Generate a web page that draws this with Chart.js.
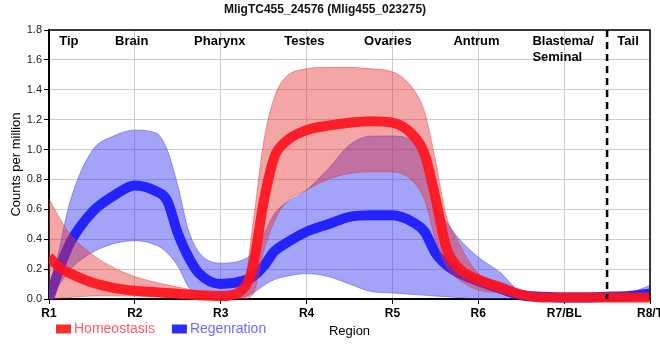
<!DOCTYPE html>
<html>
<head>
<meta charset="utf-8">
<script src="https://cdn.jsdelivr.net/npm/chart.js@4.4.0/dist/chart.umd.min.js"></script>
<style>
  html, body { margin: 0; padding: 0; background: #fff; overflow: hidden; }
  #wrap { width: 660px; height: 360px; }
</style>
</head>
<body>
<div id="wrap"><canvas id="chart" width="660" height="360"></canvas></div>
<script>
// values (Counts per million)
const chartTitle = 'MligTC455_24576 (Mlig455_023275)';
const regionLabels = ['R1', 'R2', 'R3', 'R4', 'R5', 'R6', 'R7/BL', 'R8/T'];
const regionNames = [['Tip'], ['Brain'], ['Pharynx'], ['Testes'], ['Ovaries'], ['Antrum'], ['Blastema/', 'Seminal'], ['Tail']];
const regionNameAt = [1.12, 1.77, 2.69, 3.74, 4.67, 5.71, 6.63, 7.62];
const tailBoundary = 7.5;

const regionPos = [1, 1.125, 1.25, 1.5, 1.75, 2, 2.25, 2.375, 2.5, 2.625, 2.75, 3, 3.25, 3.375, 3.5, 3.625, 3.75,
  4, 4.25, 4.5, 4.75, 5, 5.25, 5.375, 5.5, 5.625, 5.75, 6, 6.25, 6.5, 6.75, 7, 7.25, 7.5, 7.75, 8];

const homeoMean = [0.28, 0.21, 0.17, 0.11, 0.075, 0.055, 0.045, 0.04, 0.035, 0.03, 0.025, 0.02, 0.06, 0.22, 0.65, 0.95, 1.05,
  1.13, 1.16, 1.18, 1.19, 1.18, 1.09, 0.97, 0.68, 0.35, 0.22, 0.13, 0.08, 0.03, 0.01, 0.01, 0.01, 0.01, 0.01, 0.01];
const homeoHigh = [0.67, 0.54, 0.43, 0.30, 0.21, 0.15, 0.11, 0.095, 0.08, 0.065, 0.05, 0.03, 0.04, 0.5, 1.05, 1.35, 1.48,
  1.54, 1.55, 1.55, 1.54, 1.52, 1.40, 1.25, 0.93, 0.56, 0.40, 0.17, 0.10, 0.04, 0.015, 0.015, 0.015, 0.015, 0.015, 0.015];
const homeoLow = [0, 0.005, 0.01, 0.02, 0.02, 0.02, 0.015, 0.01, 0.01, 0.01, 0.01, 0.01, 0, 0.03, 0.32, 0.52, 0.64,
  0.73, 0.80, 0.84, 0.85, 0.85, 0.78, 0.66, 0.40, 0.22, 0.14, 0.06, 0.04, 0.01, 0, 0, 0, 0, 0, 0];

const regenMean = [0, 0.21, 0.38, 0.58, 0.69, 0.76, 0.72, 0.66, 0.44, 0.28, 0.17, 0.10, 0.12, 0.15, 0.22, 0.32, 0.37,
  0.45, 0.50, 0.55, 0.56, 0.56, 0.51, 0.45, 0.31, 0.23, 0.18, 0.12, 0.07, 0.025, 0.015, 0.01, 0.01, 0.015, 0.02, 0.035];
const regenHigh = [0, 0.35, 0.66, 0.99, 1.09, 1.13, 1.11, 1.0, 0.76, 0.46, 0.31, 0.24, 0.26, 0.31, 0.43, 0.57, 0.64,
  0.73, 0.87, 1.03, 1.09, 1.09, 1.05, 0.89, 0.63, 0.52, 0.42, 0.28, 0.18, 0.04, 0.01, 0.01, 0.012, 0.02, 0.04, 0.09];
const regenLow = [0, 0.1, 0.2, 0.31, 0.37, 0.39, 0.36, 0.31, 0.22, 0.08, 0.02, 0, 0.01, 0.04, 0.09, 0.13, 0.15,
  0.17, 0.15, 0.10, 0.05, 0.04, 0.03, 0.025, 0.02, 0.015, 0.01, 0, 0, 0, 0, 0, 0, 0, 0, 0.01];

const FONT = '"Liberation Sans", Arial, sans-serif';

function pts(arr) {
    return regionPos.map((x, i) => ({ x: x, y: arr[i] }));
}

function meanLine(label, arr, color) {
    return {
        label: label,
        data: pts(arr),
        borderColor: color,
        backgroundColor: color,
        borderWidth: 10,
        pointRadius: 0,
        fill: false,
        cubicInterpolationMode: 'monotone',
        clip: { left: 0, top: 0, right: 0, bottom: 4 }
    };
}

function bandEdge(arr, edge, fillColor, fillTarget) {
    return {
        label: '',
        data: pts(arr),
        borderColor: edge,
        backgroundColor: fillColor,
        borderWidth: 1,
        pointRadius: 0,
        fill: fillTarget,
        cubicInterpolationMode: 'monotone',
        clip: 0
    };
}

// first dataset is drawn last (on top)
const datasets = [
    meanLine('Homeostasis', homeoMean, 'rgba(255,20,30,0.92)'),
    bandEdge(homeoHigh, 'rgba(220,60,60,0.45)', 'rgba(230,50,50,0.44)', '+1'),
    bandEdge(homeoLow, 'rgba(220,60,60,0.45)', 'rgba(230,50,50,0.44)', false),
    meanLine('Regenration', regenMean, 'rgba(25,25,255,0.92)'),
    bandEdge(regenHigh, 'rgba(60,60,230,0.45)', 'rgba(50,50,240,0.45)', '+1'),
    bandEdge(regenLow, 'rgba(60,60,230,0.45)', 'rgba(50,50,240,0.45)', false)
];

const legendColors = { 'Homeostasis': ['rgb(255,45,45)', '#ff5a66'], 'Regenration': ['rgb(45,45,255)', '#6b6bff'] };

const extras = {
    id: 'extras',
    afterDatasetsDraw(chart) {
        const ctx = chart.ctx;
        const a = chart.chartArea;
        const xs = chart.scales.x;
        ctx.save();
        // dashed boundary before the tail
        const dx = xs.getPixelForValue(tailBoundary);
        ctx.strokeStyle = '#000';
        ctx.lineWidth = 2.5;
        ctx.setLineDash([7, 5]);
        ctx.beginPath();
        ctx.moveTo(dx, a.top);
        ctx.lineTo(dx, a.bottom);
        ctx.stroke();
        ctx.setLineDash([]);
        // frame top and right
        ctx.lineWidth = 1.5;
        ctx.beginPath();
        ctx.moveTo(a.left, a.top);
        ctx.lineTo(a.right, a.top);
        ctx.lineTo(a.right, a.bottom);
        ctx.stroke();
        ctx.restore();
    },
    afterDraw(chart) {
        const ctx = chart.ctx;
        const a = chart.chartArea;
        const xs = chart.scales.x;
        ctx.save();
        // region names along the top
        ctx.fillStyle = '#000';
        ctx.font = 'bold 13px ' + FONT;
        ctx.textAlign = 'left';
        ctx.textBaseline = 'middle';
        regionNames.forEach((lines, i) => {
            const x = xs.getPixelForValue(regionNameAt[i]);
            lines.forEach((t, j) => ctx.fillText(t, x, a.top + 11 + j * 16));
        });
        // legend + axis title share the bottom row
        ctx.font = '14px ' + FONT;
        let lx = 56;
        const ly = 329;
        chart.data.datasets.filter(d => d.label).forEach(d => {
            const c = legendColors[d.label];
            ctx.fillStyle = c[0];
            ctx.fillRect(lx, ly - 4.5, 15, 9);
            ctx.fillStyle = c[1];
            ctx.fillText(d.label, lx + 18, ly);
            lx += 18 + ctx.measureText(d.label).width + 17;
        });
        ctx.fillStyle = '#000';
        ctx.font = '13px ' + FONT;
        ctx.textAlign = 'center';
        ctx.fillText('Region', (a.left + a.right) / 2, ly + 2);
        ctx.restore();
    }
};

new Chart(document.getElementById('chart'), {
    type: 'line',
    data: { datasets: datasets },
    options: {
        responsive: false,
        animation: false,
        layout: { padding: { left: 0, top: 0, bottom: 0, right: 10 } },
        plugins: {
            legend: { display: false },
            tooltip: { enabled: false },
            title: {
                display: true,
                text: chartTitle,
                color: '#111',
                font: { family: FONT, size: 12, weight: 'bold' },
                padding: { top: 2, bottom: 13.6 }
            }
        },
        scales: {
            x: {
                type: 'linear',
                min: 1,
                max: 8,
                ticks: {
                    stepSize: 1,
                    padding: 2,
                    color: '#000',
                    font: { family: FONT, size: 12, weight: 'bold' },
                    callback: v => regionLabels[v - 1] || ''
                },
                grid: { color: '#cccccc', tickColor: '#000', tickLength: 5 },
                border: { color: '#000', width: 2 },
                afterFit: s => { s.height = 61; s.paddingLeft = 0; s.paddingRight = 0; }
            },
            y: {
                min: 0,
                max: 1.8,
                ticks: {
                    stepSize: 0.2,
                    padding: 2,
                    color: '#222',
                    font: { family: FONT, size: 11 },
                    callback: v => v.toFixed(1)
                },
                grid: { color: '#cccccc', tickColor: '#000', tickLength: 5 },
                border: { color: '#000', width: 2 },
                title: {
                    display: true,
                    text: 'Counts per million',
                    color: '#000',
                    font: { family: FONT, size: 13 },
                    padding: { top: 9, bottom: 0 }
                },
                afterFit: s => { s.width = 49; s.paddingTop = 0; s.paddingBottom = 0; }
            }
        }
    },
    plugins: [extras]
});
</script>
</body>
</html>
